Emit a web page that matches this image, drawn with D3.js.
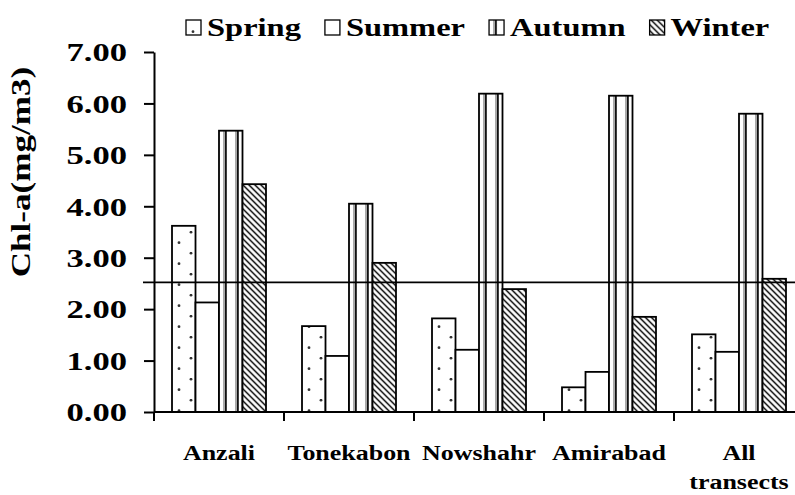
<!DOCTYPE html>
<html>
<head>
<meta charset="utf-8">
<script src="https://cdn.jsdelivr.net/npm/d3@7"></script>
<style>
  body { margin: 0; background: #fff; }
  text { font-family: "Liberation Serif", "Times New Roman", serif; font-weight: bold; fill: #000; }
</style>
</head>
<body>
<svg id="chart" width="795" height="495"></svg>
<script>
// data
const categories = ["Anzali", "Tonekabon", "Nowshahr", "Amirabad", "All transects"];
const seasons = ["Spring", "Summer", "Autumn", "Winter"];
const spring = [3.62, 1.67, 1.82, 0.48, 1.51];
const summer = [2.13, 1.09, 1.21, 0.78, 1.17];
const autumn = [5.47, 4.05, 6.19, 6.15, 5.80];
const winter = [4.43, 2.90, 2.39, 1.85, 2.59];
const yTicks = [0, 1, 2, 3, 4, 5, 6, 7];
const meanLine = 2.52;

const series = { Spring: spring, Summer: summer, Autumn: autumn, Winter: winter };

const svg = d3.select("#chart");
const width = +svg.attr("width");
const height = +svg.attr("height");

const axisX = 154, yTop = 52, yBottom = 412;
const stretch = 1.33;   // the original type is set wide

// scales
const x0 = d3.scaleBand()
    .domain(categories)
    .range([axisX, axisX + 130 * categories.length])
    .paddingInner(0.277)
    .paddingOuter(0.1385);

const x1 = d3.scaleBand()
    .domain(seasons)
    .range([0, x0.bandwidth()]);

const y = d3.scaleLinear()
    .domain([0, 7])
    .range([yBottom, yTop]);

// patterns (user space of each bar group, so x is relative to the group)
const defs = svg.append("defs");

const pSpring = defs.append("pattern")
    .attr("id", "p-spring")
    .attr("patternUnits", "userSpaceOnUse")
    .attr("x", x1("Spring"))
    .attr("y", 0)
    .attr("width", x0.step())
    .attr("height", 21);
pSpring.append("rect").attr("width", x0.step()).attr("height", 21).attr("fill", "#fff");
pSpring.append("circle").attr("cx", 7).attr("cy", 11.7).attr("r", 1.4).attr("fill", "#333");
pSpring.append("circle").attr("cx", 19).attr("cy", 1.2).attr("r", 1.4).attr("fill", "#333");

const pAutumn = defs.append("pattern")
    .attr("id", "p-autumn")
    .attr("patternUnits", "userSpaceOnUse")
    .attr("x", x1("Autumn"))
    .attr("y", 0)
    .attr("width", x0.step())
    .attr("height", 10);
pAutumn.append("rect").attr("width", x0.step()).attr("height", 10).attr("fill", "#fff");
[6, 18].forEach(px => {
    pAutumn.append("rect").attr("x", px - 2).attr("width", 2).attr("height", 10).attr("fill", "#aaa");
    pAutumn.append("rect").attr("x", px).attr("width", 1.8).attr("height", 10).attr("fill", "#111");
});

const pWinter = defs.append("pattern")
    .attr("id", "p-winter")
    .attr("patternUnits", "userSpaceOnUse")
    .attr("width", 6)
    .attr("height", 6);
pWinter.append("rect").attr("width", 6).attr("height", 6).attr("fill", "#fff");
pWinter.append("path")
    .attr("d", "M-1,-1 L7,7 M-1,5 L1,7 M5,-1 L7,1")
    .attr("stroke", "#aaa").attr("stroke-width", 2.4);
pWinter.append("path")
    .attr("d", "M-1,-1 L7,7 M-1,5 L1,7 M5,-1 L7,1")
    .attr("stroke", "#111").attr("stroke-width", 1.1);

const fills = { Spring: "url(#p-spring)", Summer: "#fff", Autumn: "url(#p-autumn)", Winter: "url(#p-winter)" };

// bars
const rows = categories.map((c, i) => ({ cat: c, values: seasons.map(s => ({ season: s, value: series[s][i] })) }));

const groups = svg.append("g").attr("class", "bars")
    .selectAll("g")
    .data(rows)
    .enter()
    .append("g")
    .attr("transform", d => `translate(${x0(d.cat)},0)`);

groups.selectAll("rect")
    .data(d => d.values)
    .enter()
    .append("rect")
    .attr("x", d => x1(d.season))
    .attr("y", d => y(d.value))
    .attr("width", x1.bandwidth())
    .attr("height", d => y(0) - y(d.value))
    .attr("fill", d => fills[d.season])
    .attr("stroke", "#000")
    .attr("stroke-width", 1.8);

// reference line
svg.append("line")
    .attr("x1", axisX - 11)
    .attr("x2", width)
    .attr("y1", y(meanLine))
    .attr("y2", y(meanLine))
    .attr("stroke", "#000")
    .attr("stroke-width", 1.8);

// y axis
const yAxis = d3.axisLeft(y)
    .tickValues(yTicks)
    .tickSize(10)
    .tickSizeOuter(0)
    .tickFormat(d3.format(".2f"));

const gy = svg.append("g")
    .attr("transform", `translate(${axisX},0)`)
    .call(yAxis);
gy.select(".domain").attr("stroke-width", 2);
gy.selectAll(".tick line").attr("stroke-width", 2);
gy.selectAll(".tick text")
    .attr("x", null)
    .attr("dy", "0.34em")
    .attr("transform", `translate(-27,0) scale(${stretch},1)`)
    .style("font-size", "26px")
    .style("font-family", null);

// x axis
const gx = svg.append("g")
    .attr("transform", `translate(0,${yBottom})`);
gx.append("line")
    .attr("x1", axisX).attr("x2", width)
    .attr("stroke", "#000").attr("stroke-width", 2);
gx.selectAll(".xtick")
    .data(categories)
    .enter()
    .append("line")
    .attr("x1", d => x0(d) - x0.step() * x0.paddingOuter())
    .attr("x2", d => x0(d) - x0.step() * x0.paddingOuter())
    .attr("y1", 0).attr("y2", 9)
    .attr("stroke", "#000").attr("stroke-width", 2);

const xl = gx.selectAll(".xlabel")
    .data(categories)
    .enter()
    .append("text")
    .attr("text-anchor", "middle")
    .attr("transform", d => `translate(${x0(d) + x0.bandwidth() / 2},48) scale(1.18,1)`)
    .style("font-size", "22px");
xl.selectAll("tspan")
    .data(d => d === "All transects" ? ["All", "transects"] : [d])
    .enter()
    .append("tspan")
    .attr("x", 0)
    .attr("dy", (d, i) => i ? 29 : 0)
    .text(d => d);

// y title
svg.append("text")
    .attr("text-anchor", "middle")
    .attr("transform", `translate(30,172) rotate(-90) scale(1.3,1)`)
    .style("font-size", "27px")
    .text("Chl-a(mg/m3)");

// legend
const legend = svg.append("g").attr("class", "legend");
let lx = 186;
seasons.forEach(s => {
    legend.append("g")
        .attr("transform", `translate(${lx - x1(s)},20)`)
        .append("rect")
        .attr("x", x1(s)).attr("y", 0)
        .attr("width", 15).attr("height", 15)
        .attr("fill", fills[s])
        .attr("stroke", "#000").attr("stroke-width", 1.3);
    const t = legend.append("text")
        .attr("transform", `translate(${lx + 21},36) scale(1.25,1)`)
        .style("font-size", "26px")
        .text(s);
    lx += 21 + t.node().getComputedTextLength() * 1.25 + 24;
});
</script>
</body>
</html>
